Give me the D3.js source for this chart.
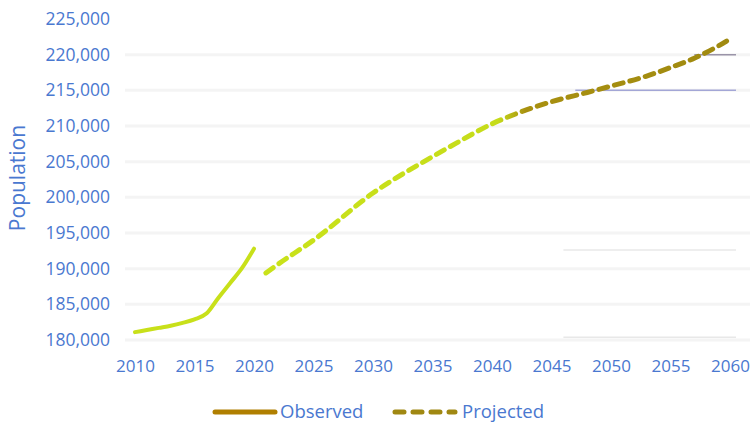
<!DOCTYPE html>
<html>
<head>
<meta charset="utf-8">
<script src="https://cdn.jsdelivr.net/npm/d3@7"></script>
<style>
  body { margin: 0; background: #fff; }
  text { font-family: "Open Sans", Lato, sans-serif; }
</style>
</head>
<body>
<div id="chart"></div>
<script>
// Observed population
const observedYears = [2010, 2011, 2012, 2013, 2014, 2015, 2016, 2017, 2018, 2019, 2020];
const observedValues = [181100, 181400, 181700, 182000, 182400, 182900, 183700, 185900, 188000, 190100, 192800];

// Projected population
const projectedYears = [2021, 2022, 2025, 2030, 2035, 2037, 2040, 2042, 2045, 2048, 2050, 2053, 2055, 2057, 2059, 2060];
const projectedValues = [189400, 190600, 194000, 200600, 205700, 207600, 210300, 211700, 213400, 214700, 215600, 217000, 218200, 219500, 221200, 222200];

// Tick labels
const yTicks = [180000, 185000, 190000, 195000, 200000, 205000, 210000, 215000, 220000, 225000];
const xTicks = [2010, 2015, 2020, 2025, 2030, 2035, 2040, 2045, 2050, 2055, 2060];

// Short reference lines seen on the right side
const refValues = [215000, 220000, 192600, 180400];
const refFrom = [2047, 2057, 2046, 2046];
const refColors = ["#a3a6d6", "#9a94a8", "#e8e8e8", "#e8e8e8"];

const width = 754, height = 423;
const axisColor = "#4a78d0";

const svg = d3.select("#chart").append("svg")
    .attr("width", width)
    .attr("height", height);

const x = d3.scaleLinear().domain([2010, 2060]).range([135, 730]);
const y = d3.scaleLinear().domain([180000, 225000]).range([340, 19]);

// faint gridlines
svg.append("g")
    .selectAll("line")
    .data(yTicks.slice(0, -1))
    .enter()
    .append("line")
    .attr("x1", 125)
    .attr("x2", 750)
    .attr("y1", d => y(d))
    .attr("y2", d => y(d))
    .style("stroke", "#f4f4f4")
    .style("stroke-width", 3);

svg.append("g")
    .selectAll("line")
    .data(refValues)
    .enter()
    .append("line")
    .attr("x1", (d, i) => x(refFrom[i]))
    .attr("x2", x(2060) + 6)
    .attr("y1", d => y(d))
    .attr("y2", d => y(d))
    .style("stroke", (d, i) => refColors[i])
    .style("stroke-width", 1.5);

// Axes (labels only)
const yAxis = svg.append("g")
    .attr("transform", "translate(110,0)")
    .call(d3.axisLeft(y).tickValues(yTicks).tickFormat(d3.format(",")).tickSize(0));
yAxis.select(".domain").remove();
yAxis.selectAll("text")
    .attr("x", 0)
    .style("fill", axisColor)
    .style("font-size", "17.5px");

const xAxis = svg.append("g")
    .attr("transform", "translate(0,357)")
    .call(d3.axisBottom(x).tickValues(xTicks).tickFormat(d3.format("d")).tickSize(0));
xAxis.select(".domain").remove();
xAxis.selectAll("text")
    .style("fill", axisColor)
    .style("font-size", "17px");

svg.append("text")
    .attr("transform", "translate(25,178) rotate(-90)")
    .attr("text-anchor", "middle")
    .style("fill", axisColor)
    .style("font-size", "21px")
    .text("Population");

// gradient along the projected line
const defs = svg.append("defs");
const grad = defs.append("linearGradient")
    .attr("id", "projGrad")
    .attr("gradientUnits", "userSpaceOnUse")
    .attr("x1", x(2021)).attr("x2", x(2060))
    .attr("y1", 0).attr("y2", 0);
grad.append("stop").attr("offset", "0%").attr("stop-color", "#c9e21a");
grad.append("stop").attr("offset", "50%").attr("stop-color", "#c6dc1a");
grad.append("stop").attr("offset", "56%").attr("stop-color", "#a89010");
grad.append("stop").attr("offset", "100%").attr("stop-color", "#a08a10");

const line = d3.line()
    .x(d => x(d[0]))
    .y(d => y(d[1]))
    .curve(d3.curveMonotoneX);

const observed = observedYears.map((yr, i) => [yr, observedValues[i]]);
const projected = projectedYears.map((yr, i) => [yr, projectedValues[i]]);

svg.append("path")
    .attr("d", line(observed))
    .style("fill", "none")
    .style("stroke", "#c8e01a")
    .style("stroke-width", 4)
    .style("stroke-linecap", "round");

svg.append("path")
    .attr("d", line(projected))
    .style("fill", "none")
    .style("stroke", "url(#projGrad)")
    .style("stroke-width", 5)
    .style("stroke-dasharray", "9,7")
    .style("stroke-linecap", "round");

// Legend
const legendItems = ["Observed", "Projected"];
const legendX = [213, 393];
const legendDash = ["none", "9,9"];
const legendColor = ["#b07f00", "#a08812"];

const legend = svg.selectAll(".legend")
    .data(legendItems)
    .enter()
    .append("g")
    .attr("class", "legend")
    .attr("transform", (d, i) => `translate(${legendX[i]},412)`);

legend.append("line")
    .attr("x1", 2)
    .attr("x2", 62)
    .style("stroke", (d, i) => legendColor[i])
    .style("stroke-width", 5)
    .style("stroke-dasharray", (d, i) => legendDash[i])
    .style("stroke-linecap", "round");

legend.append("text")
    .attr("x", (d, i) => i === 0 ? 67 : 69)
    .attr("y", 6)
    .style("fill", axisColor)
    .style("font-size", "18.5px")
    .text(d => d);
</script>
</body>
</html>
